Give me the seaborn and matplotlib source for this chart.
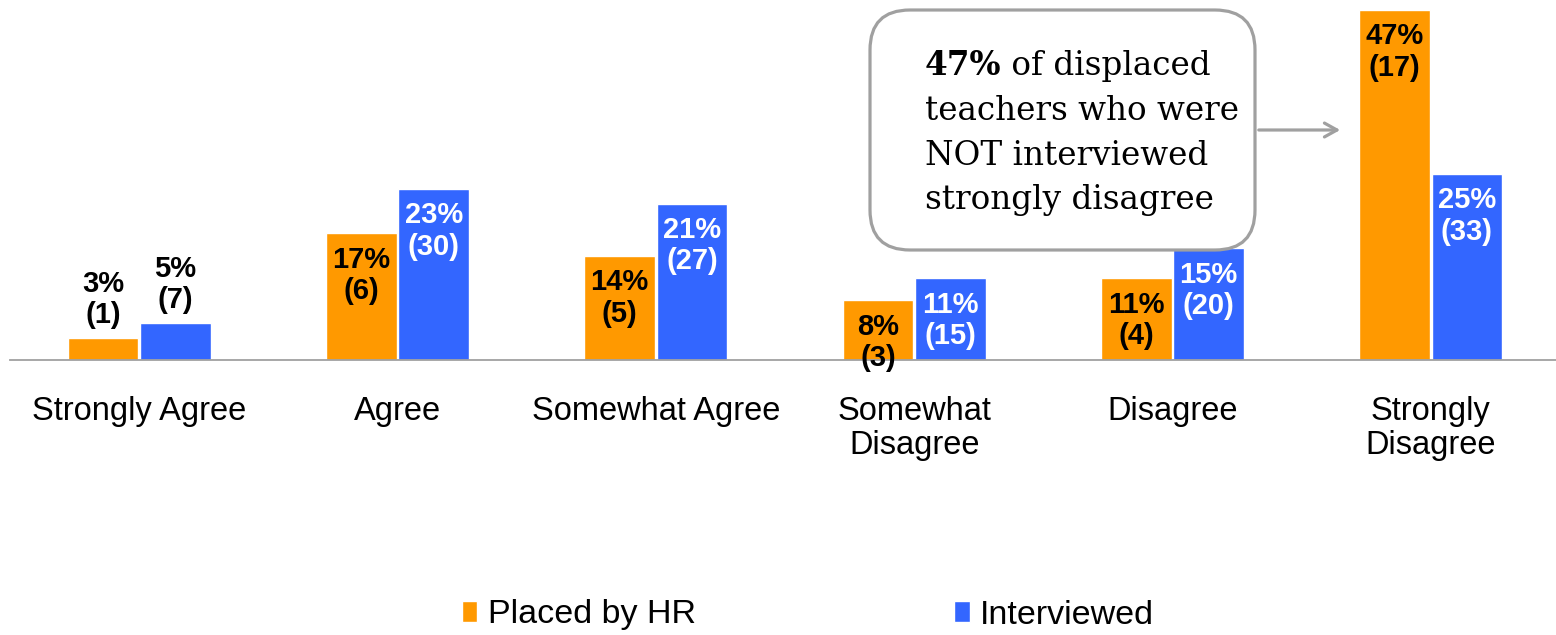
import numpy as np
import pandas as pd
import matplotlib
matplotlib.use("Agg")
import matplotlib.pyplot as plt
from matplotlib.patches import FancyBboxPatch
import seaborn as sns

categories = ["Strongly Agree", "Agree", "Somewhat Agree", "Somewhat\nDisagree",
              "Disagree", "Strongly\nDisagree"]
series_names = ["Placed by HR", "Interviewed"]
placed_pct = [3, 17, 14, 8, 11, 47]
placed_n = [1, 6, 5, 3, 4, 17]
interviewed_pct = [5, 23, 21, 11, 15, 25]
interviewed_n = [7, 30, 27, 15, 20, 33]
colors = ["#FF9900", "#3366FF"]

sns.set_style("white")
plt.rcParams["font.family"] = ["Liberation Sans", "DejaVu Sans"]
plt.rcParams["text.color"] = "black"
plt.rcParams["xtick.color"] = "black"

df = pd.DataFrame({
    "category": categories * 2,
    "series": [series_names[0]] * 6 + [series_names[1]] * 6,
    "pct": placed_pct + interviewed_pct,
})

W, H = 1556, 635
fig = plt.figure(figsize=(W / 100, H / 100), dpi=100)
ax = fig.add_axes([10 / W, (H - 360) / H, 1550 / W, 350 / H])

sns.barplot(data=df, x="category", y="pct", hue="series", order=categories,
            hue_order=series_names, palette=colors, width=0.56, gap=0.02,
            saturation=1, ax=ax, zorder=2)

handles, labels = ax.get_legend_handles_labels()
if ax.get_legend() is not None:
    ax.get_legend().remove()

ax.set_xlim(-0.5, 5.5)
ax.set_ylim(0, 47)
ax.set_xlabel("")
ax.set_ylabel("")
ax.set_yticks([])
for s in ["left", "right", "top"]:
    ax.spines[s].set_visible(False)
ax.spines["bottom"].set_color("#A0A0A0")
ax.spines["bottom"].set_linewidth(1.3)
ax.set_xticks(range(len(categories)))
ax.set_xticklabels(categories, fontsize=23.5, linespacing=1.1, color="black")
ax.set_xticks(np.arange(-0.5, len(categories), 1), minor=True)
ax.tick_params(axis="x", which="major", length=0, pad=26)
ax.tick_params(axis="x", which="minor", length=9, width=1.3, color="#A0A0A0")

pcts = [placed_pct, interviewed_pct]
counts = [placed_n, interviewed_n]
inside_colors = ["black", "white"]
lab_font = ["Liberation Sans Narrow", "Liberation Sans"]
for i, cont in enumerate(ax.containers):
    for bar, v, n in zip(cont.patches, pcts[i], counts[i]):
        x = bar.get_x() + bar.get_width() / 2
        top = bar.get_height()
        txt = f"{v}%\n({n})"
        if v < 6:
            ax.annotate(txt, (x, top), xytext=(0, 6), textcoords="offset points",
                        ha="center", va="bottom", fontsize=21, fontweight="bold",
                        family=lab_font, color="black", linespacing=1.15,
                        annotation_clip=False)
        else:
            ax.annotate(txt, (x, top), xytext=(0, -9), textcoords="offset points",
                        ha="center", va="top", fontsize=21, fontweight="bold",
                        family=lab_font, color=inside_colors[i], linespacing=1.15,
                        annotation_clip=False)

# callout overlay in pixel coordinates
ov = fig.add_axes([0, 0, 1, 1], zorder=5)
ov.set_xlim(0, W)
ov.set_ylim(H, 0)
ov.axis("off")
ov.patch.set_alpha(0)
box = FancyBboxPatch((870, 10), 385, 240, boxstyle="round,pad=0,rounding_size=40",
                     fc="white", ec="#A0A0A0", lw=2.3)
ov.add_patch(box)
ov.annotate("", xy=(1343, 130), xytext=(1256, 130),
            arrowprops=dict(arrowstyle="->,head_length=0.9,head_width=0.5",
                            color="#A0A0A0", lw=2.3))
serif = ["DejaVu Serif"]
fs = 23.5
t1 = ov.text(925, 75, "47%", fontsize=fs, fontweight="bold", family=serif,
             ha="left", va="baseline", color="black")
ov.annotate(" of displaced", xy=(1, 0), xycoords=t1, ha="left", va="bottom",
            fontsize=fs, family=serif, color="black")
for y, line in zip([120, 165, 209], ["teachers who were", "NOT interviewed",
                                      "strongly disagree"]):
    ov.text(925, y, line, fontsize=fs, family=serif, ha="left", va="baseline",
            color="black")

fig.legend(handles, labels, loc="center", bbox_to_anchor=(808 / W, 1 - 615 / H),
           ncol=2, frameon=False, fontsize=24.5, handlelength=0.45, handleheight=0.55,
           handletextpad=0.3, columnspacing=7.6)

fig.savefig("out.png", dpi=100)
